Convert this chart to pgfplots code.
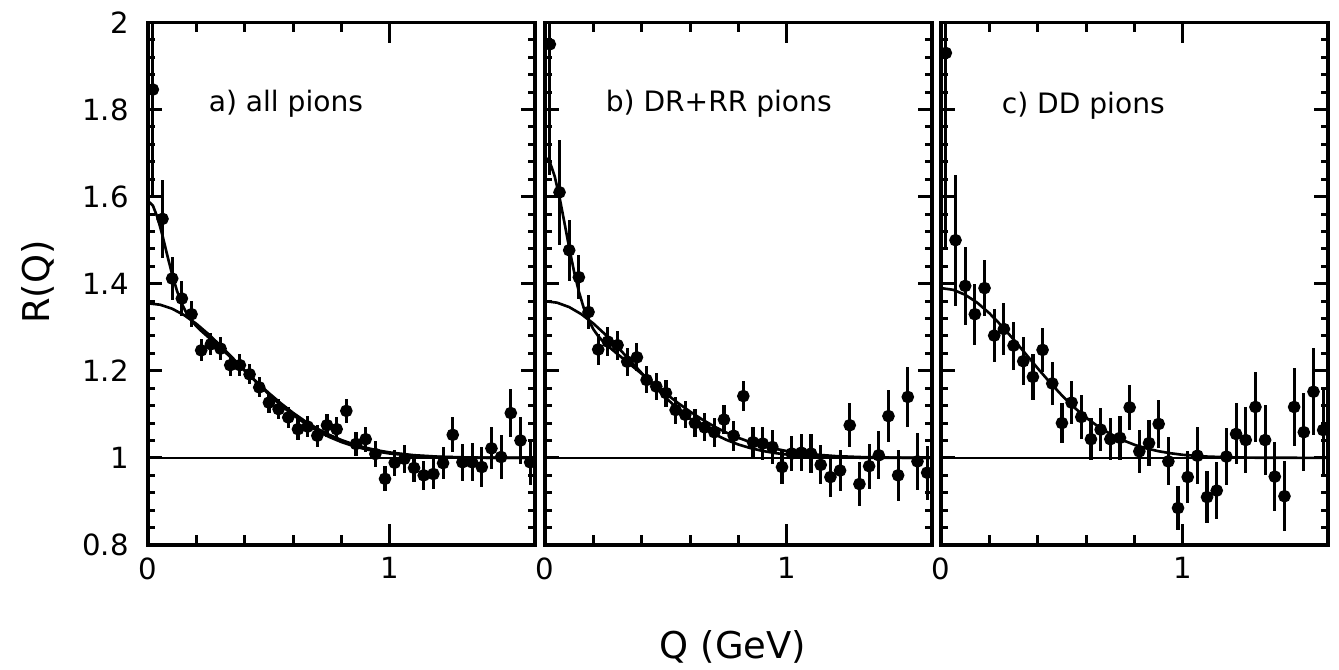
\documentclass[border=0pt]{standalone}
\usepackage{fontspec}
\setmainfont{DejaVu Sans}
\usepackage{pgfplots}
\usepackage{pgfplotstable}
\pgfplotsset{compat=1.18}

% R(Q) per bin: Q, R, error
\pgfplotstableread{
q r e
0.02 1.846 0.25
0.06 1.549 0.09
0.10 1.412 0.05
0.14 1.366 0.04
0.18 1.330 0.03
0.22 1.247 0.025
0.26 1.261 0.025
0.30 1.251 0.026
0.34 1.213 0.024
0.38 1.213 0.025
0.42 1.192 0.023
0.46 1.162 0.023
0.50 1.127 0.023
0.54 1.112 0.023
0.58 1.093 0.024
0.62 1.066 0.024
0.66 1.072 0.025
0.70 1.051 0.025
0.74 1.075 0.026
0.78 1.066 0.027
0.82 1.108 0.028
0.86 1.032 0.028
0.90 1.043 0.029
0.94 1.009 0.029
0.98 0.952 0.029
1.02 0.989 0.030
1.06 0.998 0.032
1.10 0.977 0.033
1.14 0.960 0.034
1.18 0.963 0.035
1.22 0.988 0.037
1.26 1.053 0.040
1.30 0.990 0.042
1.34 0.990 0.044
1.38 0.979 0.046
1.42 1.022 0.048
1.46 1.002 0.050
1.50 1.103 0.055
1.54 1.040 0.053
1.58 0.990 0.053
}\dataA

\pgfplotstableread{
q r e
0.02 1.950 0.30
0.06 1.610 0.12
0.10 1.477 0.07
0.14 1.415 0.05
0.18 1.335 0.04
0.22 1.249 0.035
0.26 1.267 0.033
0.30 1.259 0.033
0.34 1.221 0.032
0.38 1.231 0.032
0.42 1.179 0.031
0.46 1.164 0.031
0.50 1.149 0.031
0.54 1.110 0.031
0.58 1.099 0.031
0.62 1.080 0.032
0.66 1.070 0.032
0.70 1.059 0.033
0.74 1.088 0.034
0.78 1.051 0.034
0.82 1.142 0.035
0.86 1.036 0.036
0.90 1.033 0.037
0.94 1.025 0.038
0.98 0.979 0.038
1.02 1.010 0.040
1.06 1.012 0.042
1.10 1.010 0.044
1.14 0.984 0.045
1.18 0.956 0.046
1.22 0.971 0.048
1.26 1.075 0.050
1.30 0.940 0.050
1.34 0.981 0.052
1.38 1.006 0.055
1.42 1.096 0.060
1.46 0.960 0.058
1.50 1.140 0.068
1.54 0.992 0.065
1.58 0.966 0.062
}\dataB

\pgfplotstableread{
q r e
0.02 1.930 0.45
0.06 1.500 0.15
0.10 1.395 0.09
0.14 1.330 0.07
0.18 1.390 0.065
0.22 1.281 0.06
0.26 1.296 0.06
0.30 1.258 0.055
0.34 1.222 0.055
0.38 1.186 0.053
0.42 1.248 0.05
0.46 1.171 0.05
0.50 1.080 0.045
0.54 1.127 0.05
0.58 1.094 0.05
0.62 1.043 0.048
0.66 1.065 0.05
0.70 1.043 0.048
0.74 1.046 0.05
0.78 1.116 0.052
0.82 1.015 0.05
0.86 1.034 0.052
0.90 1.078 0.055
0.94 0.992 0.055
0.98 0.885 0.05
1.02 0.956 0.06
1.06 1.005 0.065
1.10 0.910 0.06
1.14 0.925 0.065
1.18 1.003 0.065
1.22 1.055 0.07
1.26 1.041 0.075
1.30 1.117 0.08
1.34 1.041 0.08
1.38 0.957 0.08
1.42 0.912 0.08
1.46 1.117 0.09
1.50 1.059 0.09
1.54 1.152 0.10
1.58 1.064 0.10
}\dataC

\pgfplotsset{
  panel/.style={
    width=3.87cm, height=5.225cm, scale only axis,
    xmin=0, xmax=1.6, ymin=0.8, ymax=2,
    xtick={0,1}, minor x tick num=4,
    ytick={0.8,1,1.2,1.4,1.6,1.8,2}, minor y tick num=4,
    tick align=inside,
    axis line style={line width=1pt},
    every tick/.style={black, line width=0.85pt},
    xtick style={/pgfplots/major tick length=0.21cm, /pgfplots/minor tick length=0.1cm},
    ytick style={/pgfplots/major tick length=0.14cm, /pgfplots/minor tick length=0.07cm},
    tick label style={font=\fontsize{8.3}{10}\selectfont},
    /pgf/number format/assume math mode=true,
    anchor=south west,
  },
  pts/.style={only marks, mark=*, black, mark size=1.6pt,
    error bars/.cd, y dir=both, y explicit,
    error bar style={line width=0.9pt}, error mark=none},
  fit/.style={black, line width=0.75pt},
}

\begin{document}
\begin{tikzpicture}
\useasboundingbox (0,0) rectangle (13.39,6.70);

% a) all pions
\begin{axis}[panel, at={(1.48cm,1.25cm)},
  yticklabel style={xshift=-0.07cm}]
\addplot[fit] coordinates {(0,1) (1.6,1)};
\addplot[fit] coordinates {
  (0,1.355) (0.05,1.3518) (0.10,1.3426) (0.15,1.3277) (0.20,1.3079)
  (0.25,1.2842) (0.30,1.2577) (0.35,1.2295) (0.40,1.2008) (0.45,1.1726)
  (0.50,1.1458) (0.55,1.1209) (0.60,1.0985) (0.65,1.0789) (0.70,1.0620)
  (0.75,1.0479) (0.80,1.0364) (0.85,1.0271) (0.90,1.0199) (0.95,1.0143)
  (1.00,1.0101) (1.10,1.0048) (1.20,1.0021) (1.30,1.0009) (1.40,1.0003) (1.60,1.0)};
\addplot[fit] coordinates {
  (0,1.59) (0.02,1.5798) (0.04,1.5512) (0.06,1.5104) (0.08,1.4647)
  (0.10,1.4209) (0.12,1.3834) (0.14,1.3539) (0.16,1.3317) (0.18,1.3153)
  (0.20,1.3025) (0.22,1.2917) (0.25,1.2770) (0.30,1.2526) (0.35,1.2268)
  (0.40,1.2004) (0.45,1.1741) (0.50,1.1488) (0.55,1.1251) (0.60,1.1034)
  (0.65,1.0841) (0.70,1.0673) (0.75,1.0529) (0.80,1.0410) (0.85,1.0312)
  (0.90,1.0234) (0.95,1.0172) (1.00,1.0125) (1.10,1.0062) (1.20,1.0029)
  (1.30,1.0013) (1.40,1.0005) (1.60,1.0001)};
\addplot[pts] table[x=q, y=r, y error=e] {\dataA};
\node[anchor=base west, font=\fontsize{8}{10}\selectfont] at (axis cs:0.2,1.795) {a) all pions};
\end{axis}

% b) DR+RR pions
\begin{axis}[panel, at={(5.45cm,1.25cm)}, yticklabels={}]
\addplot[fit] coordinates {(0,1) (1.6,1)};
\addplot[fit] coordinates {
  (0,1.36) (0.05,1.3565) (0.10,1.3464) (0.15,1.3302) (0.20,1.3087)
  (0.25,1.2831) (0.30,1.2547) (0.35,1.2248) (0.40,1.1946) (0.45,1.1653)
  (0.50,1.1377) (0.55,1.1125) (0.60,1.0902) (0.65,1.0709) (0.70,1.0547)
  (0.75,1.0414) (0.80,1.0307) (0.85,1.0224) (0.90,1.0160) (0.95,1.0112)
  (1.00,1.0077) (1.10,1.0034) (1.20,1.0014) (1.30,1.0005) (1.60,1.0)};
\addplot[fit] coordinates {
  (0,1.691) (0.02,1.6795) (0.04,1.6469) (0.06,1.5985) (0.08,1.5413)
  (0.10,1.4827) (0.12,1.4283) (0.14,1.3819) (0.16,1.3448) (0.18,1.3166)
  (0.20,1.2955) (0.22,1.2796) (0.25,1.2617) (0.30,1.2383) (0.35,1.2157)
  (0.40,1.1930) (0.45,1.1700) (0.50,1.1475) (0.55,1.1261) (0.60,1.1063)
  (0.65,1.0882) (0.70,1.0721) (0.75,1.0581) (0.80,1.0461) (0.85,1.0360)
  (0.90,1.0277) (0.95,1.0211) (1.00,1.0157) (1.10,1.0084) (1.20,1.0042)
  (1.30,1.0020) (1.40,1.0009) (1.50,1.0004) (1.60,1.0001)};
\addplot[pts] table[x=q, y=r, y error=e] {\dataB};
\node[anchor=base west, font=\fontsize{8}{10}\selectfont] at (axis cs:0.2,1.795) {b) DR+RR pions};
\end{axis}

% c) DD pions
\begin{axis}[panel, at={(9.41cm,1.25cm)}, yticklabels={}]
\addplot[fit] coordinates {(0,1) (1.6,1)};
\addplot[fit] coordinates {
  (0,1.39) (0.05,1.3861) (0.10,1.3747) (0.15,1.3564) (0.20,1.3323)
  (0.25,1.3037) (0.30,1.2721) (0.35,1.2389) (0.40,1.2056) (0.45,1.1735)
  (0.50,1.1435) (0.55,1.1163) (0.60,1.0924) (0.65,1.0720) (0.70,1.0549)
  (0.75,1.0411) (0.80,1.0301) (0.85,1.0217) (0.90,1.0153) (0.95,1.0106)
  (1.00,1.0071) (1.10,1.0031) (1.20,1.0012) (1.30,1.0005) (1.60,1.0)};
\addplot[pts] table[x=q, y=r, y error=e] {\dataC};
\node[anchor=base west, font=\fontsize{8}{10}\selectfont] at (axis cs:0.2,1.79) {c) DD pions};
\end{axis}

\node[rotate=90, font=\fontsize{10.5}{12}\selectfont] at (0.38,3.88) {R(Q)};
\node[font=\fontsize{10.5}{12}\selectfont] at (7.33,0.23) {Q (GeV)};
\end{tikzpicture}
\end{document}
